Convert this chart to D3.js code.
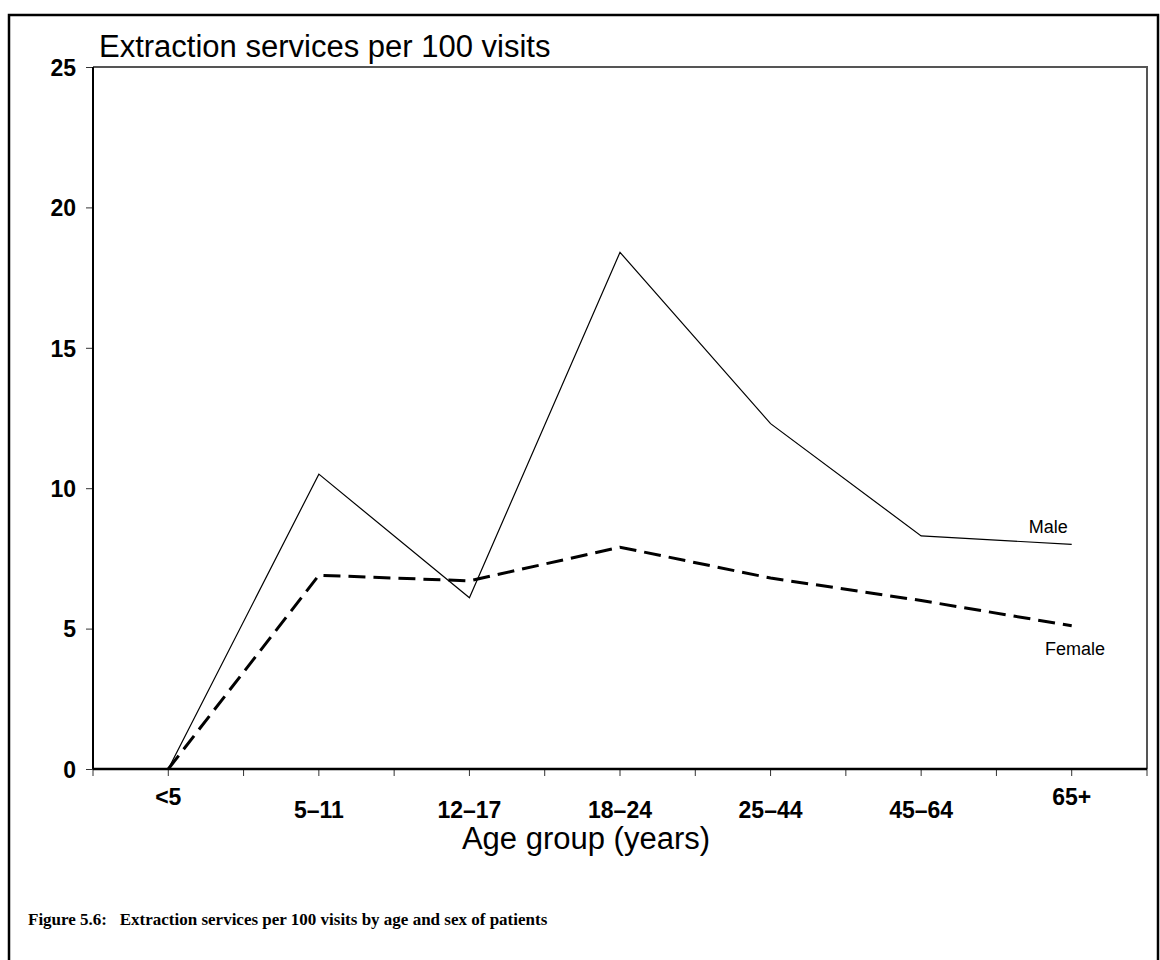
<!DOCTYPE html>
<html>
<head>
<meta charset="utf-8">
<script src="https://cdn.jsdelivr.net/npm/d3@7"></script>
<style>
  html, body { margin: 0; padding: 0; background: #fff; }
  svg { display: block; }
</style>
</head>
<body>
<svg id="chart" width="1160" height="960"></svg>
<script>
// ---- data ----
const categories = ["<5", "5\u201311", "12\u201317", "18\u201324", "25\u201344", "45\u201364", "65+"];
const maleValues = [0, 10.5, 6.1, 18.4, 12.3, 8.3, 8.0];
const femaleValues = [0, 6.9, 6.7, 7.9, 6.8, 6.0, 5.1];
const yTicks = [0, 5, 10, 15, 20, 25];
const titleText = "Extraction services per 100 visits";
const xTitleText = "Age group (years)";
const captionText = "Figure 5.6:\u00a0\u00a0\u00a0Extraction services per 100 visits by age and sex of patients";

(function () {
// ---- layout ----
const svg = d3.select("#chart");
const pL = 93, pR = 1147, pT = 67, pB = 769;

const x = d3.scalePoint().domain(categories).range([pL, pR]).padding(0.5);
const y = d3.scaleLinear().domain([0, 25]).range([pB, pT]);
const step = x.step();

// outer frame
svg.append("rect").attr("x", 9).attr("y", 15).attr("width", 1149).attr("height", 960)
  .attr("fill", "none").attr("stroke", "#000").attr("stroke-width", 2.5);

// plot area top/right border
svg.append("path")
  .attr("d", `M${pL},${pT}H${pR}V${pB}`)
  .attr("fill", "none").attr("stroke", "#555").attr("stroke-width", 2);

// title
svg.append("text").attr("x", 99).attr("y", 57)
  .attr("font-family", "Liberation Sans, Arial, sans-serif").attr("font-size", 31)
  .attr("fill", "#000").text(titleText);

// y axis
const yAxis = d3.axisLeft(y).tickValues(yTicks).tickSize(7).tickPadding(10).tickFormat(d3.format("d"));
const gy = svg.append("g").attr("transform", `translate(${pL},0)`).call(yAxis);
gy.select(".domain").remove();
gy.selectAll(".tick line").attr("stroke", "#333").attr("stroke-width", 1);
gy.selectAll(".tick text")
  .attr("font-family", "Liberation Sans, Arial, sans-serif")
  .attr("font-size", 23).attr("font-weight", "bold").attr("fill", "#000")
  .attr("dy", "0.36em");
svg.append("line").attr("x1", pL).attr("x2", pL).attr("y1", pT).attr("y2", pB)
  .attr("stroke", "#000").attr("stroke-width", 2);

// x axis ticks (category centres and boundaries)
const tickPos = [];
categories.forEach((c, i) => {
  if (i === 0) tickPos.push(x(c) - step / 2);
  tickPos.push(x(c));
  tickPos.push(x(c) + step / 2);
});
svg.append("g").selectAll("line").data(tickPos).join("line")
  .attr("x1", d => d).attr("x2", d => d).attr("y1", pB).attr("y2", pB + 7)
  .attr("stroke", "#333").attr("stroke-width", 1);
svg.append("line").attr("x1", pL).attr("x2", pR).attr("y1", pB).attr("y2", pB)
  .attr("stroke", "#000").attr("stroke-width", 2.5);

// x tick labels
svg.append("g").selectAll("text").data(categories).join("text")
  .attr("x", d => x(d))
  .attr("y", (d, i) => (i === 0 || i === categories.length - 1) ? 805 : 818)
  .attr("text-anchor", "middle")
  .attr("font-family", "Liberation Sans, Arial, sans-serif")
  .attr("font-size", 23).attr("font-weight", "bold").attr("fill", "#000")
  .text(d => d);

// x axis title
svg.append("text").attr("x", 586).attr("y", 849).attr("text-anchor", "middle")
  .attr("font-family", "Liberation Sans, Arial, sans-serif").attr("font-size", 31)
  .attr("fill", "#000").text(xTitleText);

// lines
const line = d3.line().x((d, i) => x(categories[i])).y(d => y(d));
svg.append("path").datum(maleValues).attr("d", line)
  .attr("fill", "none").attr("stroke", "#000").attr("stroke-width", 1.2);
svg.append("path").datum(femaleValues).attr("d", line)
  .attr("fill", "none").attr("stroke", "#000").attr("stroke-width", 3)
  .attr("stroke-dasharray", "17,8");

// series labels
const lastX = x(categories[categories.length - 1]);
svg.append("text").attr("x", lastX - 4).attr("y", 533).attr("text-anchor", "end")
  .attr("font-family", "Liberation Sans, Arial, sans-serif").attr("font-size", 18)
  .attr("fill", "#000").text("Male");
svg.append("text").attr("x", 1045).attr("y", 655)
  .attr("font-family", "Liberation Sans, Arial, sans-serif").attr("font-size", 18)
  .attr("fill", "#000").text("Female");

// caption
svg.append("text").attr("x", 28).attr("y", 925)
  .attr("font-family", "Liberation Serif, Times New Roman, serif").attr("font-size", 17)
  .attr("font-weight", "bold").attr("fill", "#000").text(captionText);
})();
</script>
</body>
</html>
